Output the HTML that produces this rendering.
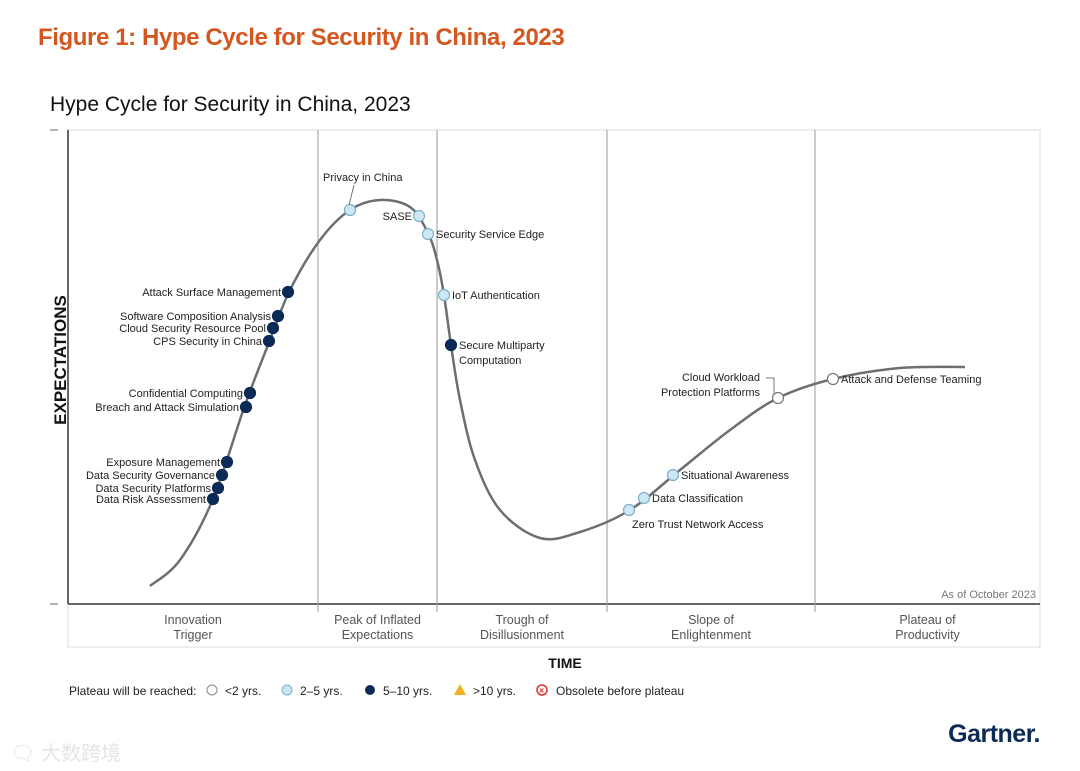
<!DOCTYPE html>
<html><head><meta charset="utf-8"><style>
body{margin:0;background:#fff;width:1080px;height:771px;overflow:hidden;font-family:"Liberation Sans","Noto Sans CJK SC",sans-serif;}
svg{position:absolute;left:0;top:0}
</style></head><body>
<svg id="c" width="1080" height="771" viewBox="0 0 1080 771">
<text x="38" y="45" font-size="24" font-weight="bold" fill="#d4571f" letter-spacing="-0.4">Figure 1: Hype Cycle for Security in China, 2023</text>
<text x="50" y="111" font-size="21" fill="#111">Hype Cycle for Security in China, 2023</text>
<rect x="68" y="130" width="972" height="474" fill="none" stroke="#ddd"/>
<rect x="68" y="604" width="972" height="43" fill="none" stroke="#ddd"/>
<line x1="68" y1="130" x2="68" y2="604" stroke="#333" stroke-width="1.5"/>
<line x1="68" y1="604" x2="1040" y2="604" stroke="#666" stroke-width="2"/>
<line x1="50" y1="130" x2="58" y2="130" stroke="#666"/>
<line x1="50" y1="604" x2="58" y2="604" stroke="#666"/>
<text transform="translate(66,360) rotate(-90)" text-anchor="middle" font-size="17" font-weight="bold" fill="#111">EXPECTATIONS</text>
<text x="565" y="668" text-anchor="middle" font-size="14" font-weight="bold" fill="#111">TIME</text>
<text x="1036" y="598" text-anchor="end" font-size="11" fill="#777">As of October 2023</text>
<g id="phases"></g><g id="curve"></g><g id="marks"></g>
<g font-size="12" fill="#222">
<text x="69" y="695">Plateau will be reached:</text>
<circle cx="212" cy="690" r="5" fill="#fff" stroke="#888"/><text x="225" y="695">&lt;2 yrs.</text>
<circle cx="287" cy="690" r="5" fill="#c9e6f3" stroke="#7fb0c8"/><text x="300" y="695">2–5 yrs.</text>
<circle cx="370" cy="690" r="5" fill="#0b2a55"/><text x="383" y="695">5–10 yrs.</text>
<polygon points="460,684 466,695 454,695" fill="#f2b21b"/><text x="473" y="695">&gt;10 yrs.</text>
<circle cx="542" cy="690" r="5" fill="#fff" stroke="#e03030" stroke-width="1.5"/><text x="539" y="693.5" font-size="9" fill="#e03030" font-weight="bold">×</text><text x="556" y="695">Obsolete before plateau</text>
</g>
<text x="1040" y="742" text-anchor="end" font-size="25" font-weight="bold" fill="#0b2a55" letter-spacing="-0.5">Gartner.</text>
<text x="10" y="760" font-size="20" fill="#e4e4e4">🗨 大数跨境</text>
</svg>
<script>
// time domain 0..972, expectation domain 0..474
const phaseNames=[["Innovation","Trigger"],["Peak of Inflated","Expectations"],["Trough of","Disillusionment"],["Slope of","Enlightenment"],["Plateau of","Productivity"]];
const phaseBounds=[0,250,369,539,747,972];
const curveT=[82,112,145,177,202,222,252,282,312,342,360,369,376,383,392,407,432,472,512,562,612,662,710,765,832,897];
const curveE=[18,44,105,199,264,314,364,394,404,397,371,344,309,259,204,144,94,66,72,94,134,174,206,225,236,237];
const itemNames=[["Privacy in China"],["SASE"],["Security Service Edge"],["IoT Authentication"],["Secure Multiparty","Computation"],["Attack Surface Management"],["Software Composition Analysis"],["Cloud Security Resource Pool"],["CPS Security in China"],["Confidential Computing"],["Breach and Attack Simulation"],["Exposure Management"],["Data Security Governance"],["Data Security Platforms"],["Data Risk Assessment"],["Zero Trust Network Access"],["Data Classification"],["Situational Awareness"],["Cloud Workload","Protection Platforms"],["Attack and Defense Teaming"]];
const itemT=[282,351,360,376,383,220,210,205,201,182,178,159,154,150,145,561,576,605,710,765];
const itemE=[394,388,370,309,259,312,288,276,263,211,197,142,129,116,105,94,106,129,206,225];
const itemRating=[2,2,2,2,3,3,3,3,3,3,3,3,3,3,3,2,2,2,1,1];
// label placement (layout only)
const labelPos=["top","left","right","right","right","left","left","left","left","left","left","left","left","left","left","below","right","right","topleft","right"];
const X=t=>68+t*(972/972), Y=e=>604-e*(474/474);
const NS="http://www.w3.org/2000/svg";
function mk(tag,attrs,parent){const el=document.createElementNS(NS,tag);for(const k in attrs)el.setAttribute(k,attrs[k]);parent.appendChild(el);return el;}
const ph=document.getElementById('phases');
for(let i=0;i<phaseNames.length;i++){
  if(i>0){const l=mk('line',{x1:X(phaseBounds[i]),x2:X(phaseBounds[i]),y1:130,y2:612,stroke:'#999','stroke-width':1},ph);
  
  }
  const cx=(X(phaseBounds[i])+X(phaseBounds[i+1]))/2;
  phaseNames[i].forEach((s,j)=>{const t=mk('text',{x:cx,y:624+j*15,'text-anchor':'middle','font-size':12.5,fill:'#555'},ph);t.textContent=s;
  
  });
}
const pts=curveT.map((t,i)=>[X(t),Y(curveE[i])]);
let d=`M${pts[0][0]},${pts[0][1]}`;
for(let i=0;i<pts.length-1;i++){const p0=pts[i-1]||pts[i],p1=pts[i],p2=pts[i+1],p3=pts[i+2]||p2;
 d+=` C${p1[0]+(p2[0]-p0[0])/6},${p1[1]+(p2[1]-p0[1])/6} ${p2[0]-(p3[0]-p1[0])/6},${p2[1]-(p3[1]-p1[1])/6} ${p2[0]},${p2[1]}`;}
const cp=mk('path',{d,fill:'none',stroke:'#6b6f6f','stroke-width':2.5},document.getElementById('curve'));


const mg=document.getElementById('marks');
const fills={1:['#fff','#777'],2:['#cce8f4','#7fb0c8'],3:['#0b2a55','#0b2a55']};
itemNames.forEach((nm,i)=>{
 const x=X(itemT[i]),y=Y(itemE[i]);const [f,s]=fills[itemRating[i]];
 const c=mk('circle',{cx:x,cy:y,r:5.5,fill:f,stroke:s,'stroke-width':1.2},mg);
 
 
 const pos=labelPos[i];let lx,ly,anc;
 if(pos==='left'){lx=x-7;ly=y+4;anc='end';}
 else if(pos==='right'){lx=x+8;ly=y+4;anc='start';}
 else if(pos==='top'){lx=x-27;ly=y-29;anc='start';const l=mk('line',{x1:x-1,y1:y-5,x2:x+4,y2:y-25,stroke:'#777'},mg);}
 else if(pos==='below'){lx=x+3;ly=y+18;anc='start';}
 else {lx=x-18;ly=y-17;anc='end';const l=mk('polyline',{points:`${x-4},${y-4} ${x-4},${y-20} ${x-12},${y-20}`,fill:'none',stroke:'#777'},mg);}
 nm.forEach((s,j)=>{const t=mk('text',{x:lx,y:ly+j*15,'text-anchor':anc,'font-size':11,fill:'#222'},mg);t.textContent=s;
 
 });
});
</script>
</body></html>
